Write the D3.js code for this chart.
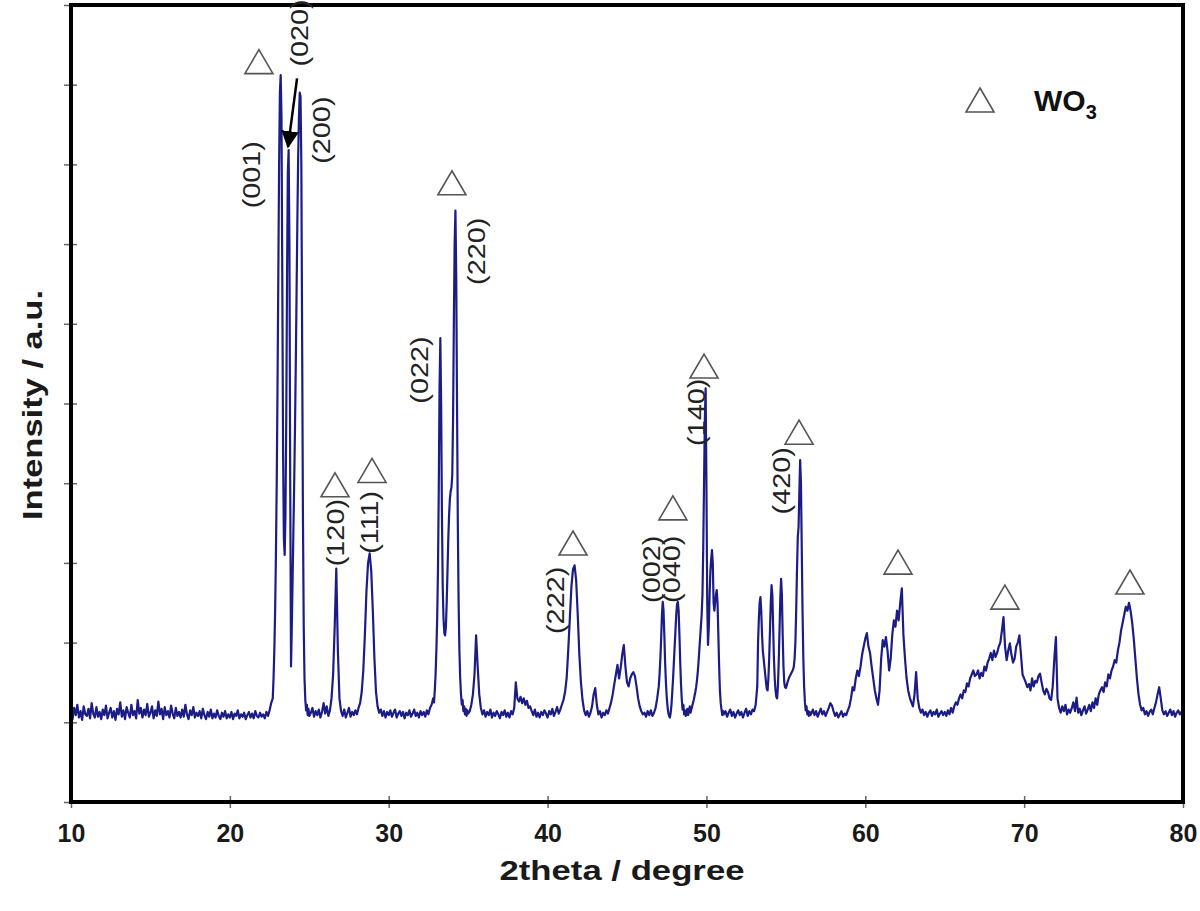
<!DOCTYPE html>
<html>
<head>
<meta charset="utf-8">
<script src="https://cdn.jsdelivr.net/npm/d3@7"></script>
<style>
  body { margin: 0; background: #fff; }
  svg text { font-family: Arial, "Liberation Sans", sans-serif; }
</style>
</head>
<body>
<svg id="chart" width="1200" height="911"></svg>
<script>
/*
 * XRD pattern of WO3, intensity (a.u.) against 2theta
 */

// ** Data **
// counts read off the trace, each part sampled on its own 2theta grid
var baseLow = [           // 10.0 - 22.6, step 0.1
	12, 4, 18, 9, 22, 6, 14, 3, 20, 10,
	8, 17, 5, 24, 11, 6, 19, 7, 13, 4,
	16, 9, 21, 5, 12, 18, 6, 14, 3, 17,
	10, 25, 7, 15, 4, 19, 12, 6, 22, 9,
	14, 5, 28, 11, 18, 6, 16, 9, 23, 7,
	12, 20, 5, 15, 8, 26, 10, 17, 4, 19,
	9, 14, 6, 21, 11, 5, 18, 8, 13, 6,
	16, 7, 22, 10, 4, 15, 9, 19, 6, 12,
	8, 14, 5, 17, 9, 4, 13, 7, 16, 5,
	11, 6, 15, 8, 4, 12, 7, 14, 5, 10,
	6, 13, 4, 11, 8, 15, 5, 10, 7, 12,
	4, 9, 13, 6, 11, 5, 14, 8, 6, 12,
	7, 10, 5, 13, 8, 15, 24
];
var peaks23 = [           // 22.70 - 25.00, step 0.05
	30, 55, 90, 140, 210, 300, 420, 560, 700, 790,
	812, 760, 560, 340, 230, 210, 260, 380, 560, 690,
	718, 600, 300, 70, 120, 180, 240, 300, 370, 450,
	540, 630, 710, 760, 790, 785, 700, 480, 260, 120,
	55, 28, 15, 22, 9, 17, 8
];
var part25 = [            // 25.1 - 32.8, step 0.1
	12, 18, 7, 14, 9, 16, 6, 13, 24,
	11, 20, 8, 15, 30, 60, 120, 193, 90, 30,
	14, 8, 16, 6, 12, 18, 7, 13, 9, 15,
	10, 18, 24, 38, 65, 110, 165, 200, 212, 190,
	140, 80, 38, 20, 12, 16, 8, 14, 6, 13,
	9, 15, 7, 12, 16, 6, 11, 14, 8, 13,
	5, 12, 9, 15, 7, 11, 16, 8, 12, 6,
	14, 9, 13, 7, 15, 10, 18, 22, 30
];
var peaks33 = [           // 32.85 - 35.00, step 0.05
	25, 40, 60, 90, 130, 190, 290, 420, 482, 400,
	260, 170, 130, 112, 109, 120, 150, 190, 230, 260,
	280, 290, 295, 310, 380, 500, 600, 642, 560, 400,
	250, 150, 90, 55, 35, 22, 28, 14, 20, 10,
	17, 8, 15, 11
];
var part35 = [            // 35.1 - 41.0, step 0.1
	14, 22, 35, 60, 109, 70, 35, 18, 10,
	15, 7, 13, 9, 16, 6, 12, 8, 14, 10,
	5, 13, 9, 15, 7, 12, 6, 14, 10, 18,
	50, 30, 26, 32, 24, 30, 22, 27, 18, 20,
	14, 9, 16, 7, 12, 6, 13, 9, 15, 11,
	6, 14, 10, 17, 8, 13, 19, 11, 16, 22,
	28
];
var part41 = [            // 41.1 - 46.9, step 0.1
	38, 55, 90, 130, 170, 192, 197, 178, 135,
	85, 50, 28, 15, 9, 14, 7, 12, 20, 35,
	43, 22, 10, 14, 6, 12, 9, 15, 11, 18,
	25, 35, 48, 60, 72, 55, 68, 85, 97, 70,
	50, 45, 55, 60, 63, 58, 45, 30, 20, 14,
	10, 12, 7, 14, 9, 15, 8, 12, 18, 30
];
var peaks47 = [           // 47.00 - 51.10, step 0.05
	45, 60, 80, 105, 135, 151, 140, 110, 75, 50,
	32, 20, 12, 8, 6, 12, 22, 38, 55, 75,
	95, 115, 135, 148, 151, 140, 110, 75, 48, 28,
	16, 22, 10, 15, 8, 13, 17, 9, 14, 20,
	12, 16, 20, 24, 28, 33, 38, 44, 52, 62,
	75, 90, 105, 120, 135, 160, 220, 300, 380, 419,
	300, 150, 97, 120, 160, 190, 205, 216, 200, 150,
	140, 150, 160, 166, 150, 110, 70, 40, 24, 16,
	9, 14, 10
];
var part51 = [            // 51.2 - 53.2, step 0.1
	14, 7, 12, 16, 8, 13, 6, 11,
	15, 9, 13, 6, 12, 17, 8, 14, 10, 16,
	14, 22, 45
];
var peaks53 = [           // 53.25 - 56.55, step 0.05
	100, 130, 150, 157, 140, 110, 90, 80, 70, 60,
	50, 42, 40, 55, 80, 115, 150, 172, 160, 120,
	80, 55, 40, 32, 30, 45, 75, 115, 155, 180,
	160, 110, 70, 50, 44, 43, 46, 50, 53, 56,
	58, 60, 62, 64, 66, 70, 80, 100, 140, 190,
	232, 245, 290, 329, 300, 220, 140, 80, 45, 25,
	15, 20, 10, 14, 8, 13, 9
];
var partHigh = [          // 56.6 - 80.0, step 0.1
	11, 16, 9, 14,
	7, 12, 17, 10, 14, 8, 13, 18, 24, 21,
	14, 8, 12, 6, 10, 14, 7, 11, 9, 15,
	20, 30, 44, 40, 55, 65, 58, 70, 85, 95,
	105, 112, 95, 87, 70, 55, 40, 30, 22, 40,
	80, 103, 95, 107, 90, 65, 80, 110, 128, 120,
	140, 128, 150, 168, 110, 80, 55, 40, 31, 25,
	20, 35, 63, 30, 18, 12, 16, 9, 13, 7,
	12, 15, 8, 13, 10, 16, 7, 11, 14, 9,
	13, 8, 15, 10, 18, 12, 20, 25, 22, 30,
	35, 30, 40, 38, 49, 45, 55, 60, 65, 58,
	60, 65, 55, 62, 58, 70, 65, 75, 80, 87,
	78, 90, 82, 87, 95, 100, 115, 132, 95, 78,
	90, 99, 85, 75, 80, 95, 100, 109, 85, 60,
	55, 50, 44, 48, 40, 55, 45, 52, 50, 58,
	61, 50, 40, 35, 42, 38, 30, 28, 45, 80,
	107, 30, 18, 12, 20, 14, 22, 10, 16, 12,
	18, 25, 14, 31, 12, 17, 9, 15, 20, 11,
	16, 22, 14, 25, 18, 30, 22, 35, 40, 44,
	38, 50, 45, 60, 55, 65, 70, 78, 75, 90,
	100, 115, 125, 135, 145, 140, 150, 140, 125, 105,
	80, 55, 35, 22, 15, 18, 10, 14, 8, 13,
	16, 10, 18, 25, 35, 44, 30, 15, 10, 14,
	8, 12, 16, 9, 14, 7, 12, 15, 10, 13,
	11
];

// [first 2theta, 2theta step, counts]
var traceParts = [
	[10.0, 0.1, baseLow],
	[22.7, 0.05, peaks23],
	[25.1, 0.1, part25],
	[32.85, 0.05, peaks33],
	[35.1, 0.1, part35],
	[41.1, 0.1, part41],
	[47.0, 0.05, peaks47],
	[51.2, 0.1, part51],
	[53.25, 0.05, peaks53],
	[56.6, 0.1, partHigh]
];

// Miller indices written next to the peaks
var hklText   = ["(001)", "(020)", "(200)", "(120)", "(111)", "(022)", "(220)", "(222)", "(002)", "(040)", "(140)", "(420)"];
var hklTheta  = [21.39, 24.41, 25.80, 26.68, 28.82, 31.97, 35.56, 40.53, 46.57, 47.83, 49.41, 54.76];
var hklCounts = [687, 865, 743, 238, 251, 442, 591, 153, 192, 192, 389, 303];

// WO3 triangle markers
var markTheta  = [21.83, 33.98, 26.62, 28.95, 41.60, 47.89, 49.85, 55.83, 62.06, 68.79, 76.66];
var markCounts = [829, 677, 298, 316, 225, 269, 447, 364, 201, 157, 176];

// arrow pointing at (020): [2theta, counts] start and tip
var arrowFrom = [24.23, 808];
var arrowTo   = [23.66, 722];

var xTicks = [10, 20, 30, 40, 50, 60, 70, 80];
var yTicks = d3.range(-100, 901, 100);
var xDomain = [10, 80];
var yDomain = [-100, 900];


// ** Layout **
const plotLeft = 71, plotRight = 1183, plotTop = 5, plotBottom = 802;
const traceColor = "#1c1c86";
const markW = 28, markH = 24;

var svg = d3.select("#chart");

var x = d3.scaleLinear().domain(xDomain).range([plotLeft, plotRight]);
var y = d3.scaleLinear().domain(yDomain).range([plotBottom, plotTop]);

// build the trace points from the parts
var trace = [];
traceParts.forEach(function(part) {
	let t0 = part[0], dt = part[1];
	part[2].forEach(function(c, i) {
		trace.push([+(t0 + i * dt).toFixed(2), c]);
	});
});

// x axis (ticks cross the frame line)
var xAxis = svg.append("g")
	.attr("transform", "translate(0," + plotBottom + ")")
	.call(d3.axisBottom(x).tickValues(xTicks).tickSize(6).tickPadding(16));
xAxis.select(".domain").remove();
xAxis.selectAll(".tick line").attr("y1", -6).attr("stroke", "#666").attr("stroke-width", 1.5);
xAxis.selectAll(".tick text")
	.style("font-size", "25px").style("font-weight", "bold").attr("fill", "#1a1a1a");

// y axis, ticks only
var yAxis = svg.append("g")
	.attr("transform", "translate(" + plotLeft + ",0)")
	.call(d3.axisLeft(y).tickValues(yTicks).tickFormat("").tickSize(7));
yAxis.select(".domain").remove();
yAxis.selectAll(".tick line").attr("x1", 6).attr("stroke", "#666").attr("stroke-width", 1.5);

// the pattern
var line = d3.line()
	.x(function(d) { return x(d[0]); })
	.y(function(d) { return y(d[1]); });

svg.append("path")
	.datum(trace)
	.attr("d", line)
	.attr("fill", "none")
	.attr("stroke", traceColor)
	.attr("stroke-width", 2.2)
	.attr("stroke-linejoin", "round");

// frame
svg.append("rect")
	.attr("x", plotLeft).attr("y", plotTop)
	.attr("width", plotRight - plotLeft).attr("height", plotBottom - plotTop)
	.attr("fill", "none").attr("stroke", "#000").attr("stroke-width", 4);

// triangle marker path centred on 0,0
function triPath(w, h) {
	return "M0," + (-h / 2) + "L" + (w / 2) + "," + (h / 2) + "L" + (-w / 2) + "," + (h / 2) + "Z";
}

markTheta.forEach(function(t, i) {
	svg.append("path")
		.attr("d", triPath(markW, markH))
		.attr("transform", "translate(" + x(t) + "," + y(markCounts[i]) + ")")
		.attr("fill", "#fff").attr("stroke", "#555").attr("stroke-width", 1.6);
});

// hkl labels, rotated and a bit stretched like the original
hklText.forEach(function(s, i) {
	svg.append("text")
		.attr("transform", "translate(" + x(hklTheta[i]) + "," + y(hklCounts[i]) + ") rotate(-90) scale(1.2,1)")
		.attr("text-anchor", "middle")
		.attr("dominant-baseline", "central")
		.style("font-size", "24px")
		.attr("fill", "#222")
		.text(s);
});

// arrow to (020)
svg.append("defs").append("marker")
	.attr("id", "head")
	.attr("viewBox", "0 0 10 10").attr("refX", 9).attr("refY", 5)
	.attr("markerWidth", 7).attr("markerHeight", 7)
	.attr("markerUnits", "strokeWidth")
	.attr("orient", "auto")
	.append("path").attr("d", "M0,0L10,5L0,10Z").attr("fill", "#000");

svg.append("line")
	.attr("x1", x(arrowFrom[0])).attr("y1", y(arrowFrom[1]))
	.attr("x2", x(arrowTo[0])).attr("y2", y(arrowTo[1]))
	.attr("stroke", "#000").attr("stroke-width", 2.5)
	.attr("marker-end", "url(#head)");

// legend
var legend = svg.append("g").attr("transform", "translate(980,100)");
legend.append("path")
	.attr("d", triPath(markW, markH))
	.attr("fill", "#fff").attr("stroke", "#555").attr("stroke-width", 1.6);
var legText = legend.append("text")
	.attr("x", 54).attr("y", 11)
	.style("font-size", "30px").style("font-weight", "bold").attr("fill", "#111");
legText.append("tspan").text("WO");
legText.append("tspan").attr("dy", 8).style("font-size", "20px").text("3");

// axis titles
svg.append("text")
	.attr("x", 622).attr("y", 880)
	.attr("text-anchor", "middle")
	.attr("textLength", 245).attr("lengthAdjust", "spacingAndGlyphs")
	.style("font-size", "28px").style("font-weight", "bold").attr("fill", "#1a1a1a")
	.text("2theta / degree");

svg.append("text")
	.attr("transform", "translate(32,405) rotate(-90)")
	.attr("text-anchor", "middle")
	.attr("dominant-baseline", "central")
	.attr("textLength", 230).attr("lengthAdjust", "spacingAndGlyphs")
	.style("font-size", "28px").style("font-weight", "bold").attr("fill", "#1a1a1a")
	.text("Intensity / a.u.");
</script>
</body>
</html>
